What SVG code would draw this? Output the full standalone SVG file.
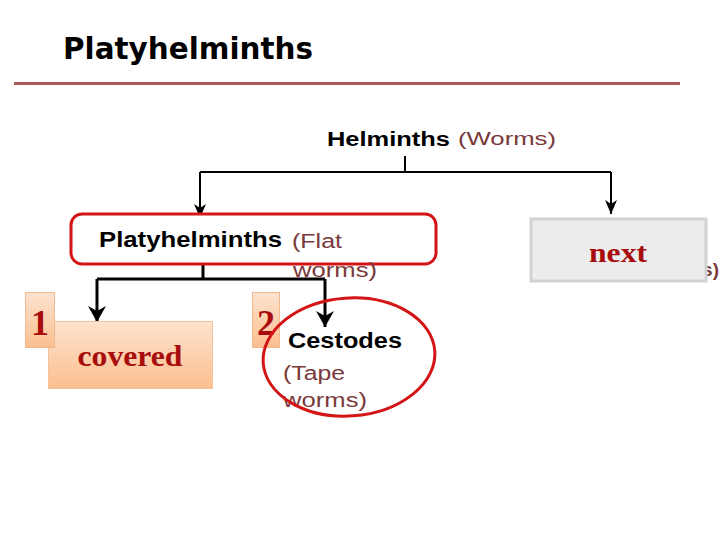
<svg xmlns="http://www.w3.org/2000/svg" width="720" height="540" viewBox="0 0 720 540">
<defs>
<linearGradient id="og" x1="0" y1="0" x2="0" y2="1">
<stop offset="0" stop-color="#fde3cf"/>
<stop offset="1" stop-color="#fbbf8e"/>
</linearGradient>
<marker id="ah" viewBox="0 0 14 12" refX="14" refY="6" markerWidth="14" markerHeight="12" markerUnits="userSpaceOnUse" orient="auto">
<path d="M0,0 L14,6 L0,12 L4,6 Z" fill="#000"/>
</marker>
<marker id="ah2" viewBox="0 0 16 18" refX="16" refY="9" markerWidth="16" markerHeight="18" markerUnits="userSpaceOnUse" orient="auto">
<path d="M0,0 L16,9 L0,18 L5,9 Z" fill="#000"/>
</marker>
</defs>
<style>
.b{font-family:"Liberation Sans",Arial,sans-serif;font-weight:bold;fill:#000}
.p{font-family:"Liberation Sans",Arial,sans-serif;fill:#7a3a3a}
.s{font-family:"Liberation Serif","Times New Roman",serif;font-weight:bold;fill:#a80c0c}
.c{fill:none;stroke:#000}
</style>
<rect width="720" height="540" fill="#fff"/>
<text x="63" y="59" font-family="'DejaVu Sans',sans-serif" font-weight="bold" font-size="31" textLength="250" lengthAdjust="spacingAndGlyphs" fill="#000">Platyhelminths</text>
<line x1="14" y1="83.5" x2="680" y2="83.5" stroke="#a85a58" stroke-width="3"/>

<g id="connectors">
<path class="c" stroke-width="2" d="M405,156 V172"/>
<path class="c" stroke-width="2" d="M200,172 H611"/>
<path class="c" stroke-width="2" d="M200,172 V218" marker-end="url(#ah)"/>
<path class="c" stroke-width="2" d="M611,172 V214" marker-end="url(#ah)"/>
<path class="c" stroke-width="3" d="M203,264 V279"/>
<path class="c" stroke-width="3" d="M97,279 H325"/>
<path class="c" stroke-width="3" d="M97,279 V322" marker-end="url(#ah2)"/>
<path class="c" stroke-width="3" d="M325,279 V327" marker-end="url(#ah2)"/>
</g>

<g id="helminths">
<text class="b" x="327" y="146" font-size="20" textLength="123" lengthAdjust="spacingAndGlyphs">Helminths</text>
<text class="p" x="458" y="145" font-size="19" textLength="98" lengthAdjust="spacingAndGlyphs">(Worms)</text>
</g>

<g id="hidden-text">
<text class="p" x="719" y="276" font-size="19" text-anchor="end" font-weight="bold">s)</text>
</g>

<g id="next">
<rect x="531" y="219" width="175" height="62" fill="#ececec" stroke="#d2d2d2" stroke-width="3"/>
<text class="s" x="618" y="262" font-size="27" text-anchor="middle" textLength="58" lengthAdjust="spacingAndGlyphs">next</text>
</g>

<g id="platyhelminths">
<rect x="71" y="214" width="365" height="50" rx="11" fill="#fff" stroke="#d41515" stroke-width="3"/>
<text class="b" x="99" y="247" font-size="22" textLength="183" lengthAdjust="spacingAndGlyphs">Platyhelminths</text>
<text class="p" x="292" y="248" font-size="20" textLength="50" lengthAdjust="spacingAndGlyphs">(Flat</text>
<text class="p" x="293" y="277" font-size="20" textLength="84" lengthAdjust="spacingAndGlyphs">worms)</text>
</g>

<g id="covered">
<rect x="48.5" y="321.5" width="164" height="67" fill="url(#og)" stroke="#f3c39e" stroke-width="1"/>
<text class="s" x="130" y="366" font-size="29" text-anchor="middle" textLength="105" lengthAdjust="spacingAndGlyphs">covered</text>
</g>

<g id="num1">
<rect x="25.5" y="292.5" width="29" height="55" fill="url(#og)" stroke="#f0b88c" stroke-width="1"/>
<text class="s" x="40" y="335" font-size="36" text-anchor="middle">1</text>
</g>

<g id="num2">
<rect x="252.5" y="292.5" width="27" height="55" fill="url(#og)" stroke="#f0b88c" stroke-width="1"/>
<text class="s" x="266" y="335" font-size="36" text-anchor="middle">2</text>
</g>

<g id="cestodes">
<text class="b" x="288" y="348" font-size="22" textLength="114" lengthAdjust="spacingAndGlyphs">Cestodes</text>
<text class="p" x="283" y="380" font-size="20" textLength="62" lengthAdjust="spacingAndGlyphs">(Tape</text>
<text class="p" x="283" y="407" font-size="20" textLength="84" lengthAdjust="spacingAndGlyphs">worms)</text>
<ellipse cx="349" cy="357" rx="86" ry="59" fill="none" stroke="#d41515" stroke-width="3" transform="rotate(-4 349 357)"/>
</g>
</svg>
